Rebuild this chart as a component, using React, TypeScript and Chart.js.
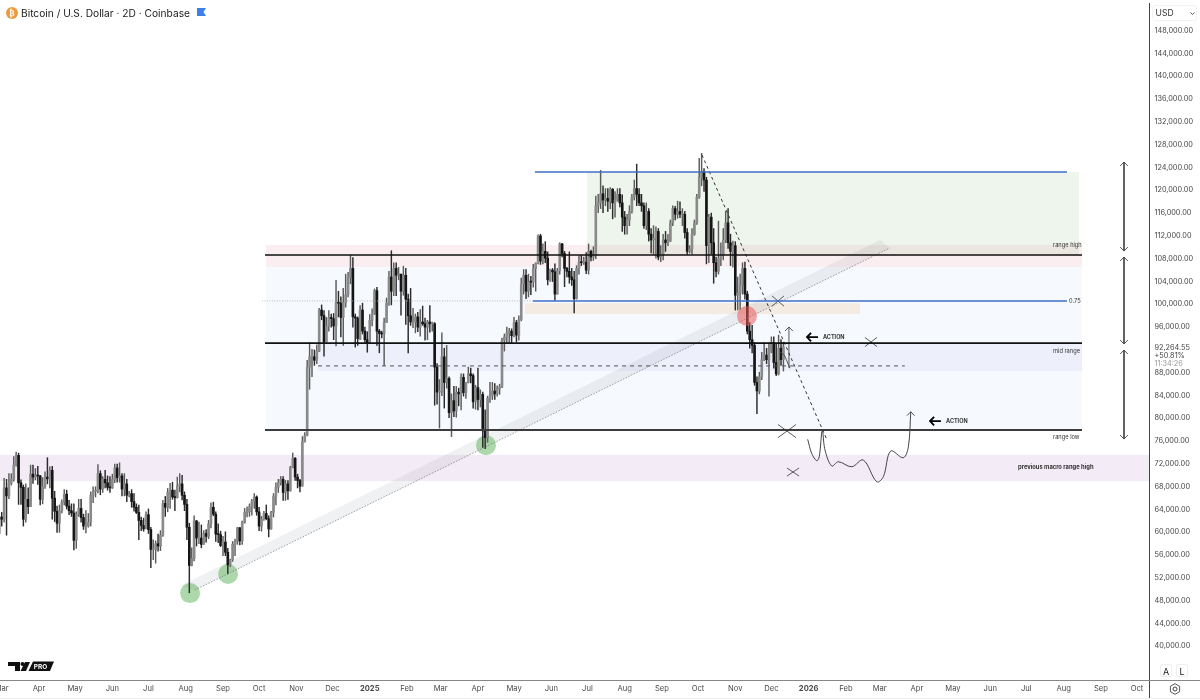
import { useEffect, useRef } from "react";
import { Chart, registerables } from "chart.js";

Chart.register(...registerables);

// x axis is days since 1 Mar 2024, y axis is USD thousands
const firstCandleDay = -2;
const candleStepDays = 2;

const opens = [
  59.5,62.4,62.0,67.5,66.1,68.3,69.0,71.5,73.2,68.4,
  67.6,62.0,65.5,64.2,69.9,69.4,69.7,69.6,65.5,67.8,
  69.4,69.1,70.6,65.7,63.4,61.3,63.5,65.0,66.4,64.3,
  63.5,63.1,58.3,62.9,63.9,62.3,60.8,60.8,61.5,66.2,
  66.9,66.9,70.0,67.3,69.0,68.4,67.6,67.5,69.0,71.0,
  69.3,69.6,67.3,68.2,66.2,66.5,65.1,64.1,63.2,61.8,
  60.9,60.3,62.8,60.2,56.7,56.7,57.7,57.3,59.2,64.8,
  64.1,66.7,67.1,65.9,65.8,67.9,68.2,66.2,64.6,60.6,
  53.9,55.1,61.7,58.7,58.7,57.6,59.5,59.0,61.2,64.1,
  62.9,59.4,59.3,57.4,58.0,56.2,54.0,54.9,57.6,58.1,
  60.5,58.2,61.5,63.2,63.3,64.2,65.2,65.9,63.3,60.8,
  62.0,63.0,62.1,60.3,63.2,66.0,67.6,68.4,69.0,66.7,
  68.2,67.0,71.1,72.7,69.4,68.8,67.8,75.6,76.7,88.7,
  90.5,90.5,89.9,91.5,98.7,97.7,93.1,95.9,97.4,97.2,
  95.9,100.0,99.9,97.4,100.0,101.4,104.4,106.0,97.5,97.3,
  93.7,98.7,95.0,93.5,92.8,96.9,98.1,102.1,95.0,94.6,
  94.5,96.5,99.9,104.5,102.0,106.0,104.8,105.0,102.0,104.8,
  100.6,97.7,96.6,96.6,97.5,95.7,96.6,96.3,95.7,96.6,
  96.3,96.3,88.7,84.3,84.4,90.5,86.0,86.7,80.7,82.8,
  81.0,84.3,84.0,86.9,84.2,86.0,87.5,87.2,82.6,85.1,
  83.0,83.9,77.5,76.3,83.2,83.7,84.5,84.0,84.9,85.2,
  93.4,94.0,94.7,95.0,94.2,96.5,94.3,97.0,103.3,104.8,
  102.0,103.7,103.6,106.0,106.9,111.7,107.3,109.0,107.8,104.0,
  105.7,105.4,101.5,105.6,110.3,108.6,106.0,105.5,104.5,104.0,
  100.7,106.0,107.1,107.0,107.1,105.7,109.0,108.0,108.2,117.0,
  117.5,119.1,118.0,118.3,117.8,119.9,117.5,118.0,119.0,117.5,
  115.0,113.5,114.5,116.0,118.5,120.0,119.0,117.5,117.0,113.5,
  116.0,112.0,111.0,111.3,112.5,108.0,108.5,111.0,110.5,110.8,
  114.0,116.5,115.5,116.0,115.5,115.5,112.3,109.0,109.4,112.0,
  114.0,118.5,122.0,123.0,121.5,110.0,115.0,110.5,107.0,105.5,
  107.7,108.3,111.0,114.0,110.5,109.0,110.0,101.3,101.7,103.0,
  106.0,101.5,95.0,93.5,92.5,86.0,84.5,87.0,90.0,90.8,
  90.0,91.5,93.0,89.5,87.5,92.0,90.0,
];

const closes = [
  62.4,62.0,67.5,66.1,68.3,69.0,71.5,73.2,68.4,67.6,
  62.0,65.5,64.2,69.9,69.4,69.7,69.6,65.5,67.8,69.4,
  69.1,70.6,65.7,63.4,61.3,63.5,65.0,66.4,64.3,63.5,
  63.1,58.3,62.9,63.9,62.3,60.8,60.8,61.5,66.2,66.9,
  66.9,70.0,67.3,69.0,68.4,67.6,67.5,69.0,71.0,69.3,
  69.6,67.3,68.2,66.2,66.5,65.1,64.1,63.2,61.8,60.9,
  60.3,62.8,60.2,56.7,56.7,57.7,57.3,59.2,64.8,64.1,
  66.7,67.1,65.9,65.8,67.9,68.2,66.2,64.6,60.6,53.9,
  55.1,61.7,58.7,58.7,57.6,59.5,59.0,61.2,64.1,62.9,
  59.4,59.3,57.4,58.0,56.2,54.0,54.9,57.6,58.1,60.5,
  58.2,61.5,63.2,63.3,64.2,65.2,65.9,63.3,60.8,62.0,
  63.0,62.1,60.3,63.2,66.0,67.6,68.4,69.0,66.7,68.2,
  67.0,71.1,72.7,69.4,68.8,67.8,75.6,76.7,88.7,90.5,
  90.5,89.9,91.5,98.7,97.7,93.1,95.9,97.4,97.2,95.9,
  100.0,99.9,97.4,100.0,101.4,104.4,106.0,97.5,97.3,93.7,
  98.7,95.0,93.5,92.8,96.9,98.1,102.1,95.0,94.6,94.5,
  96.5,99.9,104.5,102.0,106.0,104.8,105.0,102.0,104.8,100.6,
  97.7,96.6,96.6,97.5,95.7,96.6,96.3,95.7,96.6,96.3,
  96.3,88.7,84.3,84.4,90.5,86.0,86.7,80.7,82.8,81.0,
  84.3,84.0,86.9,84.2,86.0,87.5,87.2,82.6,85.1,83.0,
  83.9,77.5,76.3,83.2,83.7,84.5,84.0,84.9,85.2,93.4,
  94.0,94.7,95.0,94.2,96.5,94.3,97.0,103.3,104.8,102.0,
  103.7,103.6,106.0,106.9,111.7,107.3,109.0,107.8,104.0,105.7,
  105.4,101.5,105.6,110.3,108.6,106.0,105.5,104.5,104.0,100.7,
  106.0,107.1,107.0,107.1,105.7,109.0,108.0,108.2,117.0,117.5,
  119.1,118.0,118.3,117.8,119.9,117.5,118.0,119.0,117.5,115.0,
  113.5,114.5,116.0,118.5,120.0,119.0,117.5,117.0,113.5,116.0,
  112.0,111.0,111.3,112.5,108.0,108.5,111.0,110.5,110.8,114.0,
  116.5,115.5,116.0,115.5,115.5,112.3,109.0,109.4,112.0,114.0,
  118.5,122.0,123.0,121.5,110.0,115.0,110.5,107.0,105.5,107.7,
  108.3,111.0,114.0,110.5,109.0,110.0,101.3,101.7,103.0,106.0,
  101.5,95.0,93.5,92.5,86.0,84.5,87.0,90.0,90.8,90.0,
  91.5,93.0,89.5,87.5,92.0,90.0,92.26,
];

const highs = [
  63.9,63.2,69.2,69.0,70.0,70.0,73.0,73.8,73.6,68.9,
  68.0,68.2,67.5,71.5,71.5,70.9,71.3,69.7,69.3,70.3,
  72.8,71.2,71.3,66.9,64.3,64.5,65.4,67.2,67.1,65.3,
  64.7,64.7,63.3,65.5,65.5,62.9,63.5,63.0,66.8,67.7,
  67.7,71.6,70.5,69.5,70.6,69.6,69.5,69.9,71.7,71.7,
  71.9,70.0,70.0,69.0,66.9,67.2,66.5,64.7,64.5,62.4,
  62.2,63.3,63.8,60.6,58.4,58.2,59.4,60.0,65.3,66.0,
  67.4,68.3,68.5,67.1,69.4,70.0,69.7,66.8,65.5,61.3,
  57.0,62.6,61.8,61.5,61.0,60.0,60.2,61.8,64.9,65.0,
  63.3,61.2,59.9,59.0,59.8,56.9,55.0,58.1,58.5,60.6,
  60.6,61.7,63.9,64.2,64.7,65.5,66.5,66.1,64.1,62.5,
  63.4,64.5,62.6,63.4,66.5,68.4,69.0,69.5,69.5,68.8,
  68.8,71.3,73.6,72.8,69.9,69.0,76.5,77.2,89.9,93.0,
  91.8,91.7,92.6,99.0,99.6,98.6,97.4,98.6,98.0,98.1,
  103.9,102.0,101.0,102.5,105.0,105.3,108.3,107.9,98.0,97.5,
  99.5,99.9,95.7,94.9,97.9,98.9,102.4,102.7,95.3,95.0,
  97.3,100.8,105.5,109.1,107.0,107.0,106.2,105.0,106.4,106.0,
  101.5,102.5,99.0,98.0,98.3,98.8,99.4,97.3,96.9,99.5,
  96.6,96.5,89.3,86.5,94.7,92.0,92.5,87.0,84.0,85.3,
  85.3,85.0,87.5,87.5,86.0,88.7,88.5,87.5,85.5,88.5,
  84.7,84.3,81.2,83.6,86.0,86.0,85.8,85.4,85.7,93.8,
  94.5,95.7,95.5,95.4,97.4,96.9,97.7,104.3,105.8,105.8,
  105.0,104.6,106.7,107.0,111.9,112.0,110.3,110.7,108.9,105.9,
  106.0,106.8,106.0,110.5,110.4,109.0,106.2,108.9,106.0,105.5,
  106.5,108.2,108.3,108.0,108.8,110.3,109.2,109.8,118.7,119.0,
  123.2,120.5,120.0,120.0,120.2,120.0,119.5,120.0,120.0,118.9,
  116.0,115.5,117.0,119.0,121.5,124.3,120.0,119.0,117.5,117.5,
  116.5,113.0,113.5,113.3,113.0,110.0,112.0,112.5,112.0,114.5,
  117.0,116.9,117.8,117.7,116.5,116.0,113.0,110.0,113.0,114.5,
  119.0,125.3,126.2,123.5,122.0,115.5,115.7,113.0,108.0,114.3,
  110.5,113.0,116.0,116.5,112.0,110.8,110.7,104.5,105.0,107.0,
  107.1,102.0,96.5,96.0,93.0,87.0,87.8,91.3,93.0,92.0,
  93.0,94.0,94.0,92.8,94.3,93.5,93.0,
];

const lows = [
  58.9,60.8,61.5,59.2,65.6,68.0,68.7,71.3,64.6,64.6,
  60.8,61.5,63.0,64.2,68.3,68.9,68.1,64.5,64.7,67.4,
  68.2,67.5,62.0,61.6,59.7,59.7,63.1,64.5,63.8,62.8,
  62.5,56.6,56.9,62.5,61.5,60.2,59.6,60.6,60.8,64.9,
  65.9,66.6,66.3,66.7,67.5,67.1,66.7,67.4,68.4,68.5,
  68.5,66.1,66.1,65.1,65.9,64.1,63.4,63.0,58.4,60.0,
  59.9,60.4,59.5,53.5,54.9,54.3,56.4,56.5,59.0,62.5,
  63.3,63.9,65.5,63.5,65.7,66.8,65.4,63.5,58.4,49.1,
  53.8,54.7,57.3,57.7,57.0,57.6,58.0,58.6,60.5,62.6,
  58.1,57.9,57.2,55.6,55.6,52.4,53.7,54.6,55.6,57.6,
  57.5,57.6,61.3,62.4,62.5,62.7,63.9,62.7,60.0,59.9,
  61.8,61.9,58.9,60.2,62.4,64.5,66.7,68.0,65.3,65.3,
  65.5,66.9,71.0,68.8,67.5,66.8,67.8,75.5,76.6,84.8,
  87.0,89.0,89.3,91.4,97.0,90.6,93.1,95.0,95.7,93.5,
  92.4,97.5,94.0,92.5,99.2,101.0,103.3,95.7,92.2,92.5,
  93.5,94.5,93.0,91.3,92.9,95.9,97.9,92.5,91.2,93.8,
  89.0,96.5,99.5,99.6,101.2,101.2,104.0,97.8,101.3,96.2,
  91.2,96.0,95.6,94.7,94.9,94.1,96.0,93.4,93.5,94.8,
  95.0,82.0,82.2,78.0,83.7,81.5,85.0,79.8,76.5,80.0,
  79.9,81.9,81.2,83.6,83.2,85.9,85.9,81.5,81.3,81.2,
  81.7,74.6,74.4,75.5,82.5,83.0,83.0,83.6,83.9,85.1,
  91.5,92.8,92.8,92.9,94.0,93.1,93.4,96.8,101.5,100.7,
  101.0,101.4,102.7,102.0,106.8,106.7,106.8,107.0,103.1,103.7,
  103.7,100.4,101.5,105.0,108.0,102.8,104.5,103.4,103.0,98.2,
  100.6,105.0,106.5,106.7,105.1,105.0,107.3,107.4,107.7,115.8,
  116.5,115.8,117.0,116.0,116.5,114.7,115.0,117.8,116.8,112.5,
  112.0,112.0,113.5,115.7,118.0,117.0,117.0,116.0,113.0,112.8,
  110.8,108.7,108.5,107.8,107.5,107.2,107.5,109.0,110.0,110.7,
  113.5,114.5,114.8,114.9,113.5,111.3,108.5,108.7,108.6,111.8,
  113.7,118.3,120.5,119.5,106.8,107.0,108.5,103.4,104.5,105.0,
  106.5,107.5,110.5,109.5,106.5,106.2,98.7,98.7,98.8,101.5,
  100.6,94.5,92.0,91.2,85.5,80.5,84.0,86.5,89.8,89.3,
  83.6,91.2,88.5,87.2,87.3,89.0,88.0,
];

const monthDays = [0,31,61,92,122,153,184,214,245,275,306,337,365,396,426,457,487,518,549,579,610,640,671,702,730,761,791,822,852,883,914,944];
const monthLabels = ["Mar","Apr","May","Jun","Jul","Aug","Sep","Oct","Nov","Dec","2025","Feb","Mar","Apr","May","Jun","Jul","Aug","Sep","Oct","Nov","Dec","2026","Feb","Mar","Apr","May","Jun","Jul","Aug","Sep","Oct"];
const priceTicks = [40,44,48,52,56,60,64,68,72,76,80,84,88,96,100,104,108,112,116,120,124,128,132,136,140,144,148];

// shaded zones: [dayFrom, dayTo, priceLow, priceHigh, colour]
const zones: [number, number, number, number, string][] = [
  [219.8, 898.3, 77.65, 106.25, "rgba(100,150,240,0.06)"],
  [219.8, 898.3, 106.25, 110.1, "rgba(233,150,170,0.16)"],
  [486.7, 895.8, 108.35, 122.9, "rgba(90,160,70,0.10)"],
  [263, 898.3, 88, 92.9, "rgba(110,80,200,0.06)"],
  [435.1, 713.7, 98, 99.9, "rgba(230,150,60,0.14)"],
  [-1.43, 954, 68.7, 73.3, "rgba(150,70,170,0.11)"],
];

const trendBandDays = [148.2, 730.3, 738.6, 160.7];
const trendBandPrices = [50.28, 111, 109.6, 49.6];

const rangeLevels = [108.35, 92.9, 77.65];
const rangeFrom = 218.9;
const rangeTo = 898.3;
const midDashed = { from: 263, to: 751, price: 88.9 };
const blueLevels = [
  { from: 443.4, to: 885.8, price: 122.9 },
  { from: 441.8, to: 885.8, price: 100.3 },
];
const dottedLevel = { from: 216.4, to: 441.8, price: 100.3 };
const trendDotted = [{ x: 160.7, y: 49.6 }, { x: 738.6, y: 109.6 }];
const fallDashed = [{ x: 582.3, y: 125.9 }, { x: 686.3, y: 75.9 }];

const pathCurve = [
  { x: 670.2, y: 76.02 }, { x: 673.5, y: 73.56 }, { x: 677.7, y: 72.26 }, { x: 679.8, y: 72.96 },
  { x: 682.3, y: 77.53 }, { x: 684.6, y: 74.14 }, { x: 690.2, y: 71.33 }, { x: 695.6, y: 72.09 },
  { x: 706.8, y: 71.21 }, { x: 716.4, y: 72.39 }, { x: 727.6, y: 68.58 }, { x: 733.1, y: 69.46 },
  { x: 739.2, y: 73.96 }, { x: 749.7, y: 72.79 }, { x: 753.9, y: 74.72 }, { x: 755.9, y: 80.86 },
];
const shortCurve = [{ x: 647.2, y: 91.33 }, { x: 650.6, y: 90.8 }, { x: 654, y: 89.2 }, { x: 655.5, y: 88.5 }];

// [day, price, half width in days, half height in price]
const crossMarks = [
  [645.5, 100.28, 5, 0.9],
  [653, 77.47, 7.5, 1.15],
  [658, 70.28, 5, 0.7],
  [722.8, 93.09, 5, 0.8],
];

// double headed arrows on the right: [priceTop, priceBottom]
const measureDay = 933.2;
const measureSpans = [[124.67, 109.05], [108, 92.74], [91.68, 76.07]];
const upArrows = [
  { x: 654.6, from: 88.53, to: 95.72 },
  { x: 755.9, from: 80.86, to: 80.86 },
];
// bold arrows pointing left: [dayTail, dayTip, price]
const actionArrows = [[678.8, 669.6, 93.96], [781, 771.9, 79.23]];

const greenDots = [{ x: 156.6, y: 49.05 }, { x: 188.2, y: 52.4 }, { x: 402.7, y: 75 }];
const redDots = [{ x: 619.7, y: 97.65 }];

const chartNotes: [string, number, number, string][] = [
  ["range high", 874.2, 110.1, "5.7px Inter"],
  ["mid range", 874.2, 91.5, "5.7px Inter"],
  ["range low", 874.2, 76.42, "5.7px Inter"],
  ["0.75", 887.5, 100.28, "5.7px Inter"],
  ["previous macro range high", 845.1, 71.16, "bold 5.8px Inter"],
  ["ACTION", 682.9, 93.96, "bold 5.5px Inter"],
  ["ACTION", 785.2, 79.23, "bold 5.5px Inter"],
];

const lastPrice = 92.26455;

const gap = { x: NaN, y: NaN };

function lineSet(data: any[], color: string, width: number, extra: any = {}) {
  return {
    type: "line" as const,
    data,
    borderColor: color,
    backgroundColor: color,
    borderWidth: width,
    pointRadius: 0,
    fill: false,
    order: 0,
    ...extra,
  };
}

function flat(from: number, to: number, price: number) {
  return [{ x: from, y: price }, { x: to, y: price }];
}

function buildCrosses() {
  const pts: any[] = [];
  crossMarks.forEach(([x, y, w, h]) => {
    pts.push({ x: x - w, y: y - h }, { x: x + w, y: y + h }, gap);
    pts.push({ x: x - w, y: y + h }, { x: x + w, y: y - h }, gap);
  });
  return pts;
}

function arrowHead(x: number, y: number, dir: number) {
  // dir 1 = tip at top, -1 = tip at bottom
  return [{ x: x - 3.2, y: y - dir * 0.7 }, { x, y }, { x: x + 3.2, y: y - dir * 0.7 }, gap];
}

function buildMeasures() {
  const pts: any[] = [];
  measureSpans.forEach(([top, bottom]) => {
    pts.push({ x: measureDay, y: top }, { x: measureDay, y: bottom }, gap);
    pts.push(...arrowHead(measureDay, top, 1), ...arrowHead(measureDay, bottom, -1));
  });
  return pts;
}

function buildUpArrows() {
  const pts: any[] = [];
  upArrows.forEach((a) => {
    pts.push({ x: a.x, y: a.from }, { x: a.x, y: a.to }, gap);
    pts.push(...arrowHead(a.x, a.to, 1));
  });
  return pts;
}

function buildActionArrows() {
  const pts: any[] = [];
  actionArrows.forEach(([tail, tip, price]) => {
    pts.push({ x: tail, y: price }, { x: tip, y: price }, gap);
    pts.push({ x: tip + 3.4, y: price + 0.75 }, { x: tip, y: price }, { x: tip + 3.4, y: price - 0.75 }, gap);
  });
  return pts;
}

const overlayPlugin = {
  id: "overlay",
  beforeDatasetsDraw(chart: any) {
    const { ctx, scales, chartArea } = chart;
    const { x, y } = scales;
    ctx.save();
    ctx.beginPath();
    ctx.rect(chartArea.left, chartArea.top, chartArea.width, chartArea.height);
    ctx.clip();
    zones.forEach(([d0, d1, p0, p1, color]) => {
      const left = x.getPixelForValue(d0);
      const top = y.getPixelForValue(p1);
      ctx.fillStyle = color;
      ctx.fillRect(left, top, x.getPixelForValue(d1) - left, y.getPixelForValue(p0) - top);
    });
    ctx.fillStyle = "rgba(120,123,134,0.11)";
    ctx.beginPath();
    trendBandDays.forEach((d, i) => {
      ctx.lineTo(x.getPixelForValue(d), y.getPixelForValue(trendBandPrices[i]));
    });
    ctx.closePath();
    ctx.fill();
    ctx.restore();
  },
  afterDraw(chart: any) {
    const { ctx, scales } = chart;
    const { x, y } = scales;
    ctx.save();
    ctx.textBaseline = "middle";
    ctx.textAlign = "left";
    chartNotes.forEach(([text, d, p, font]) => {
      ctx.font = font;
      ctx.fillStyle = "#333";
      ctx.fillText(text, x.getPixelForValue(d), y.getPixelForValue(p));
    });
    // last price block on the axis
    const labelX = chart.chartArea.right + 5.5;
    const py = y.getPixelForValue(lastPrice);
    ctx.font = "7.3px Inter";
    ctx.fillStyle = "#444";
    ctx.fillText("92,264.55", labelX, py + 1.5);
    ctx.fillText("+50.81%", labelX, py + 9);
    ctx.fillStyle = "#999";
    ctx.fillText("11:34:26", labelX, py + 17);
    ctx.restore();
  },
};

export default function App() {
  const canvasRef = useRef<HTMLCanvasElement>(null);

  useEffect(() => {
    if (!canvasRef.current) return;
    document.body.style.margin = "0";

    const days = closes.map((_, i) => firstCandleDay + i * candleStepDays);

    const chart = new Chart(canvasRef.current, {
      type: "bar",
      data: {
        datasets: [
          lineSet(rangeLevels.slice(0, 2).flatMap((p) => [...flat(rangeFrom, rangeTo, p), gap]), "#111", 1.6),
          lineSet(flat(rangeFrom, rangeTo, rangeLevels[2]), "#3c3c3c", 1.9),
          lineSet(flat(midDashed.from, midDashed.to, midDashed.price), "#555", 1, { borderDash: [4, 4] }),
          lineSet(blueLevels.flatMap((l) => [...flat(l.from, l.to, l.price), gap]), "#3f6fc6", 1.5),
          lineSet(flat(dottedLevel.from, dottedLevel.to, dottedLevel.price), "#aaa", 0.8, { borderDash: [1, 1.5] }),
          lineSet(trendDotted, "#777", 0.7, { borderDash: [1.5, 1.5] }),
          lineSet(fallDashed, "#333", 1, { borderDash: [3, 3] }),
          lineSet(pathCurve, "#444", 1, { tension: 0.35 }),
          lineSet(shortCurve, "#444", 0.9, { tension: 0.3 }),
          lineSet(buildCrosses(), "#333", 0.8),
          lineSet(buildMeasures(), "#444", 0.9),
          lineSet(buildUpArrows(), "#444", 0.9),
          lineSet(buildActionArrows(), "#000", 1.8),
          {
            type: "bar" as const,
            data: days.map((d, i) => ({ x: d, y: [opens[i], closes[i]] })),
            backgroundColor: closes.map((c, i) => (c >= opens[i] ? "#8a8a8a" : "#151515")),
            barThickness: 2,
            minBarLength: 1,
            grouped: false,
            order: 1,
          },
          {
            type: "bar" as const,
            data: days.map((d, i) => ({ x: d, y: [lows[i], highs[i]] })),
            backgroundColor: closes.map((c, i) => (c >= opens[i] ? "#5c5c5c" : "#2b2b2b")),
            barThickness: 0.8,
            grouped: false,
            order: 2,
          },
          lineSet(greenDots, "rgba(92,178,88,0.5)", 0, {
            showLine: false, pointRadius: 10, pointBackgroundColor: "rgba(92,178,88,0.5)", pointBorderWidth: 0, order: 3,
          }),
          lineSet(redDots, "rgba(236,90,90,0.55)", 0, {
            showLine: false, pointRadius: 10, pointBackgroundColor: "rgba(236,90,90,0.55)", pointBorderWidth: 0, order: -1,
          }),
        ],
      } as any,
      options: {
        responsive: false,
        animation: false,
        events: [],
        layout: { padding: 0, autoPadding: false },
        plugins: { legend: { display: false }, tooltip: { enabled: false } },
        scales: {
          x: {
            type: "linear",
            min: -1.43,
            max: 954,
            offset: false,
            grid: { display: false, drawTicks: false, offset: false },
            border: { display: false },
            afterBuildTicks: (scale: any) => {
              scale.ticks = monthDays.map((value) => ({ value }));
            },
            afterFit: (scale: any) => {
              scale.height = 20;
              scale.paddingLeft = 0;
              scale.paddingRight = 0;
            },
            ticks: {
              autoSkip: false,
              maxRotation: 0,
              padding: 4,
              color: "#4a4a4a",
              callback: (_v: any, i: number) => monthLabels[i],
              font: (ctx: any) => {
                const isYear = /^20/.test(monthLabels[ctx.index] ?? "");
                return { family: "Inter", size: 7.6, weight: isYear ? "bold" : "normal" };
              },
            },
          } as any,
          y: {
            type: "linear",
            position: "right",
            min: 33.8,
            max: 153.09,
            grid: { display: false, drawTicks: false },
            border: { display: false },
            afterBuildTicks: (scale: any) => {
              scale.ticks = priceTicks.map((value) => ({ value }));
            },
            afterFit: (scale: any) => {
              scale.width = 51;
              scale.paddingTop = 0;
              scale.paddingBottom = 0;
            },
            ticks: {
              autoSkip: false,
              padding: 5.5,
              labelOffset: 1.5,
              color: "#444",
              font: { family: "Inter", size: 7.3 },
              callback: (v: any) =>
                (v * 1000).toLocaleString("en-US", { minimumFractionDigits: 2, maximumFractionDigits: 2 }),
            },
          } as any,
        },
      },
      plugins: [overlayPlugin],
    } as any);

    return () => chart.destroy();
  }, []);

  const boxBtn: React.CSSProperties = {
    position: "absolute",
    top: 664,
    width: 12,
    height: 13,
    border: "1px solid #eee",
    borderRadius: 2,
    fontSize: 9,
    lineHeight: "13px",
    textAlign: "center",
    color: "#222",
    boxSizing: "border-box",
  };

  return (
    <div style={{ position: "relative", width: 1200, height: 700, overflow: "hidden", background: "#fff", fontFamily: "Inter" }}>
      <canvas ref={canvasRef} width={1200} height={700} style={{ display: "block" }} />

      {/* frame lines */}
      <div style={{ position: "absolute", left: 1149, top: 3, width: 1, height: 695, background: "#444" }} />
      <div style={{ position: "absolute", left: 0, top: 680, width: 1200, height: 1, background: "#888" }} />
      <div style={{ position: "absolute", left: 0, top: 698, width: 1200, height: 1, background: "#f0f0f0" }} />

      {/* header */}
      <svg style={{ position: "absolute", left: 6, top: 7 }} width={12} height={12}>
        <circle cx={6} cy={6} r={6} fill="#ee9a3c" />
        <text x={6} y={9} textAnchor="middle" fontSize={8} fontWeight="bold" fill="#fff" fontFamily="DejaVu Sans">₿</text>
      </svg>
      <div style={{ position: "absolute", left: 21, top: 6, fontSize: 10.2, lineHeight: "14px", color: "#1a1a1a", whiteSpace: "nowrap" }}>
        Bitcoin / U.S. Dollar · 2D · Coinbase
      </div>
      <svg style={{ position: "absolute", left: 197, top: 8 }} width={9} height={10}>
        <polygon points="0,0 9,0 6.5,4 9,8 0,8" fill="#3d7fe8" />
      </svg>

      {/* currency box */}
      <div style={{ position: "absolute", left: 1152, top: 5, width: 45, height: 16, border: "1px solid #f2f2f2", borderRadius: 3, boxSizing: "border-box", fontSize: 8.6, lineHeight: "15px", paddingLeft: 2.5, color: "#333" }}>
        USD
      </div>
      <svg style={{ position: "absolute", left: 1190, top: 12 }} width={5} height={4}>
        <polyline points="0.5,0.5 2.5,2.5 4.5,0.5" fill="none" stroke="#444" strokeWidth={0.9} />
      </svg>

      {/* scale buttons */}
      <div style={{ ...boxBtn, left: 1160 }}>A</div>
      <div style={{ ...boxBtn, left: 1176 }}>L</div>
      <svg style={{ position: "absolute", left: 1169, top: 683 }} width={12} height={12}>
        <polygon points="6,0.7 10.6,3.3 10.6,8.7 6,11.3 1.4,8.7 1.4,3.3" fill="none" stroke="#444" strokeWidth={0.9} />
        <circle cx={6} cy={6} r={2} fill="none" stroke="#444" strokeWidth={1} />
      </svg>

      {/* logo */}
      <svg style={{ position: "absolute", left: 0, top: 655 }} width={60} height={20}>
        <polygon points="8,7 20,7 20,16 15,16 15,11 8,11" fill="#111" />
        <circle cx={22.5} cy={9} r={2} fill="#111" />
        <polygon points="25,7 30,7 26,16 20.5,16" fill="#111" />
        <polygon points="33,6.5 54,6.5 50,16 28.5,16" fill="#111" />
        <text x={40.5} y={14} textAnchor="middle" fontSize={6.5} fontWeight="bold" fill="#fff" fontFamily="Inter">PRO</text>
      </svg>
    </div>
  );
}
